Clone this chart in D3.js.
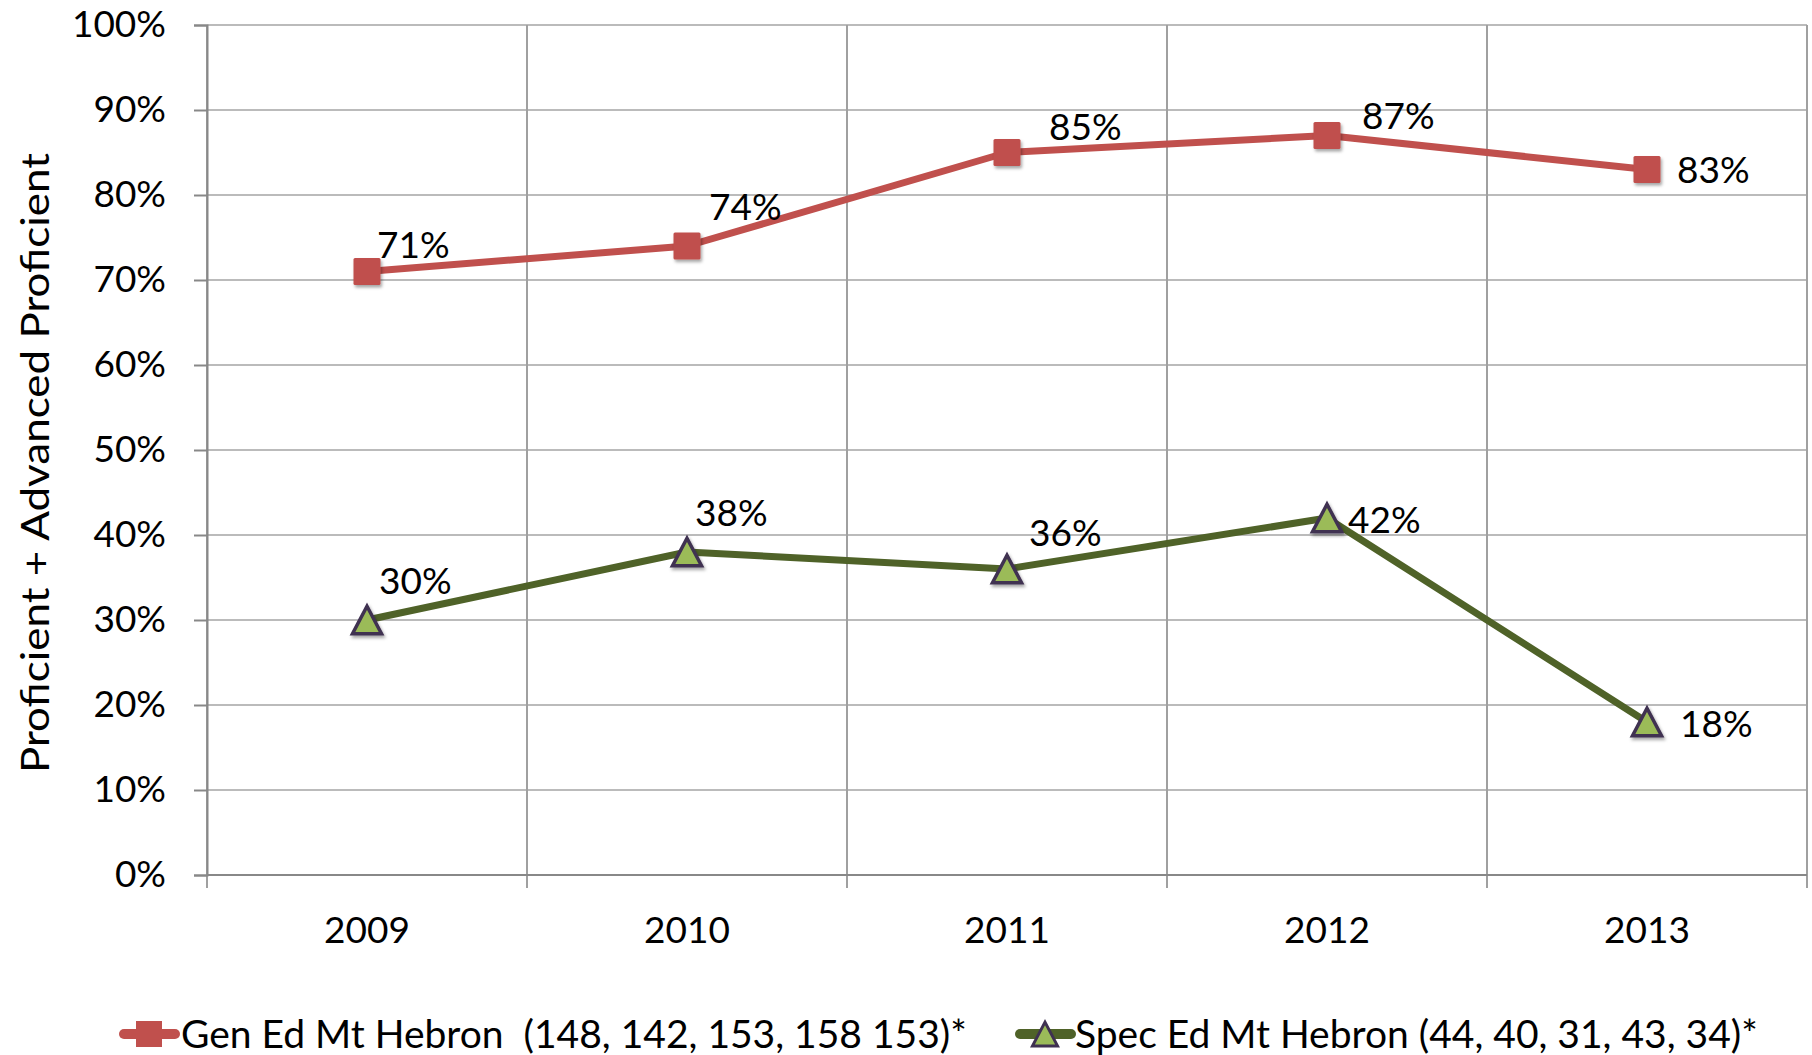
<!DOCTYPE html>
<html>
<head>
<meta charset="utf-8">
<script src="https://cdn.jsdelivr.net/npm/d3@7"></script>
<style>
  html, body { margin: 0; padding: 0; background: #fff; }
  svg { display: block; }
  text { font-family: Lato, "Open Sans", sans-serif; fill: #000; }
</style>
</head>
<body>
<svg id="chart" width="1812" height="1055"></svg>
<script>
// ---- data ----
const years = ["2009", "2010", "2011", "2012", "2013"];
const genEd = [0.71, 0.74, 0.85, 0.87, 0.83];
const specEd = [0.30, 0.38, 0.36, 0.42, 0.18];
const yTicks = [0, 0.1, 0.2, 0.3, 0.4, 0.5, 0.6, 0.7, 0.8, 0.9, 1.0];
const seriesNames = [
  "Gen Ed Mt Hebron  (148, 142, 153, 158 153)*",
  "Spec Ed Mt Hebron (44, 40, 31, 43, 34)*"
];
const yTitle = "Proficient + Advanced Proficient";
// label offsets (text left edge / vertical centre relative to point)
const genLabelOffsets = [[10, -27], [22, -39], [42, -26], [35, -20], [30, 0]];
const specLabelOffsets = [[12, -39], [8, -39], [22, -36], [21, 2], [33, 1.5]];

// ---- layout ----
const plotL = 207, plotR = 1807, plotT = 25, plotB = 875;
const fs = 37, fsLegend = 39, fsTitle = 39;
const red = "#C0504D", green = "#4F6228", triFill = "#9BBB59", triStroke = "#3F3151";

const svg = d3.select("#chart");
const defs = svg.append("defs");
const f = defs.append("filter").attr("id", "shadow").attr("x", "-30%").attr("y", "-30%").attr("width", "160%").attr("height", "160%");
f.append("feDropShadow").attr("dx", 1.5).attr("dy", 2.5).attr("stdDeviation", 1.5).attr("flood-color", "#000").attr("flood-opacity", 0.35);

const x = d3.scaleBand().domain(years).range([plotL, plotR]);
const y = d3.scaleLinear().domain([0, 1]).range([plotB, plotT]);
const cx = d => x(d) + x.bandwidth() / 2;

// horizontal gridlines
svg.append("g").selectAll("line").data(yTicks.filter(t => t > 0)).join("line")
  .attr("x1", plotL).attr("x2", plotR)
  .attr("y1", d => y(d)).attr("y2", d => y(d))
  .attr("stroke", "#BBBBBB").attr("stroke-width", 2);

// vertical gridlines at category boundaries
const bounds = years.map(d => x(d)).concat([plotR]);
svg.append("g").selectAll("line").data(bounds).join("line")
  .attr("x1", d => d).attr("x2", d => d)
  .attr("y1", plotT).attr("y2", plotB + 13)
  .attr("stroke", "#A0A0A0").attr("stroke-width", 2);

// y axis
const yAxis = d3.axisLeft(y).tickValues(yTicks).tickSize(13).tickPadding(28)
  .tickFormat(d3.format(".0%"));
const gy = svg.append("g").attr("transform", `translate(${plotL},0)`).call(yAxis);
gy.select(".domain").attr("stroke", "#888888").attr("stroke-width", 2);
gy.selectAll(".tick line").attr("stroke", "#888888").attr("stroke-width", 2);
gy.selectAll(".tick text").attr("font-size", fs).attr("font-family", "Lato, sans-serif").attr("fill", "#000");

// x axis baseline
svg.append("line").attr("x1", plotL).attr("x2", plotR).attr("y1", plotB).attr("y2", plotB)
  .attr("stroke", "#888888").attr("stroke-width", 2);

// x labels
svg.append("g").selectAll("text").data(years).join("text")
  .attr("x", d => cx(d)).attr("y", 930 + fs * 0.358)
  .attr("text-anchor", "middle").attr("font-size", fs).text(d => d);

// y title
svg.append("text").attr("transform", `translate(${35 + fsTitle * 0.358},463) rotate(-90)`)
  .attr("text-anchor", "middle").attr("font-size", fsTitle)
  .attr("textLength", 620).attr("lengthAdjust", "spacingAndGlyphs").text(yTitle);

// lines
const line = d3.line().x((d, i) => cx(years[i])).y(d => y(d));
svg.append("path").datum(genEd).attr("d", line).attr("fill", "none")
  .attr("stroke", red).attr("stroke-width", 7).attr("stroke-linejoin", "round");
svg.append("path").datum(specEd).attr("d", line).attr("fill", "none")
  .attr("stroke", green).attr("stroke-width", 7).attr("stroke-linejoin", "round");

// markers
const sq = 27;
svg.append("g").selectAll("rect").data(genEd).join("rect")
  .attr("x", (d, i) => cx(years[i]) - sq / 2).attr("y", d => y(d) - sq / 2)
  .attr("width", sq).attr("height", sq).attr("rx", 1.5)
  .attr("fill", red).attr("filter", "url(#shadow)");

const tri = (px, py, s) => {
  const h = s * 0.95;
  return `M${px},${py - h / 2}L${px + s / 2},${py + h / 2}L${px - s / 2},${py + h / 2}Z`;
};
svg.append("g").selectAll("path").data(specEd).join("path")
  .attr("d", (d, i) => tri(cx(years[i]), y(d), 29))
  .attr("fill", triFill).attr("stroke", triStroke).attr("stroke-width", 3.5)
  .attr("stroke-linejoin", "miter").attr("filter", "url(#shadow)");

// data labels
const pct = d3.format(".0%");
svg.append("g").selectAll("text").data(genEd).join("text")
  .attr("x", (d, i) => cx(years[i]) + genLabelOffsets[i][0])
  .attr("y", (d, i) => y(d) + genLabelOffsets[i][1] + fs * 0.358)
  .attr("font-size", fs).text(d => pct(d));
svg.append("g").selectAll("text").data(specEd).join("text")
  .attr("x", (d, i) => cx(years[i]) + specLabelOffsets[i][0])
  .attr("y", (d, i) => y(d) + specLabelOffsets[i][1] + fs * 0.358)
  .attr("font-size", fs).text(d => pct(d));

// legend
const ly = 1034;
const lg = svg.append("g");
lg.append("line").attr("x1", 124).attr("x2", 175).attr("y1", ly).attr("y2", ly)
  .attr("stroke", red).attr("stroke-width", 10).attr("stroke-linecap", "round");
lg.append("rect").attr("x", 149 - 13).attr("y", ly - 13).attr("width", 26).attr("height", 26)
  .attr("fill", red);
lg.append("text").attr("x", 181).attr("y", ly + fsLegend * 0.358).attr("font-size", fsLegend)
  .attr("xml:space", "preserve").style("white-space", "pre").text(seriesNames[0]);

lg.append("line").attr("x1", 1020).attr("x2", 1071).attr("y1", ly).attr("y2", ly)
  .attr("stroke", green).attr("stroke-width", 10).attr("stroke-linecap", "round");
lg.append("path").attr("d", tri(1045, ly, 25))
  .attr("fill", triFill).attr("stroke", triStroke).attr("stroke-width", 3);
lg.append("text").attr("x", 1075).attr("y", ly + fsLegend * 0.358).attr("font-size", fsLegend)
  .attr("xml:space", "preserve").style("white-space", "pre").text(seriesNames[1]);
</script>
</body>
</html>
